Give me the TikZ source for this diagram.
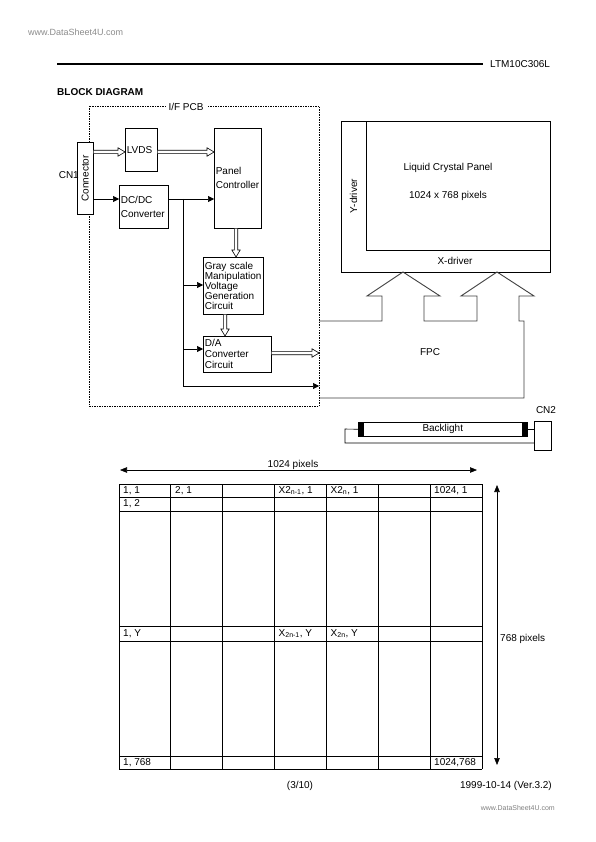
\documentclass[tikz,border=0pt]{standalone}
\usepackage{fontspec}
\setmainfont{Liberation Sans}
\usetikzlibrary{arrows.meta,calc}
% hollow arrow pointing right, from #1 to #2
\newcommand\fatarrowh[2]{%
  \draw[fatbody] ($(#1)+(0pt,1.7pt)$) -- ($(#2)+(-7pt,1.7pt)$) -- ($(#2)+(-7pt,4.2pt)$) -- (#2)
    -- ($(#2)+(-7pt,-4.2pt)$) -- ($(#2)+(-7pt,-1.7pt)$) -- ($(#1)+(0pt,-1.7pt)$);}
% hollow arrow pointing down, from #1 to #2
\newcommand\fatarrowv[2]{%
  \draw[fatbody] ($(#1)+(-1.7pt,0pt)$) -- ($(#2)+(-1.7pt,7pt)$) -- ($(#2)+(-4.2pt,7pt)$) -- (#2)
    -- ($(#2)+(4.2pt,7pt)$) -- ($(#2)+(1.7pt,7pt)$) -- ($(#1)+(1.7pt,0pt)$);}
\begin{document}
\begin{tikzpicture}[x=1pt,y=-1pt,
  every node/.style={font=\fontsize{10}{12}\selectfont, inner sep=0pt},
  blk/.style={draw, fill=white, line width=0.6pt, anchor=north west, align=left, inner sep=1.5pt},
  frame/.style={draw, fill=white, line width=0.6pt, anchor=north west},
  conn/.style={draw, line width=0.6pt},
  solidarrow/.style={conn, -{Triangle[length=6pt,width=6pt]}},
  fatbody/.style={draw, fill=white, line width=0.6pt, line join=miter},
  pcb/.style={draw, line width=0.6pt, dash pattern=on 1.5pt off 1pt},
  fpc/.style={draw, black!75, line width=0.9pt},
  gridline/.style={draw, line width=0.8pt},
  dimarrow/.style={conn, {Triangle[length=7pt,width=5.5pt]}-{Triangle[length=7pt,width=5.5pt]}},
  cell/.style={anchor=west},
]
\useasboundingbox (0,0) rectangle (595,842);
\fill[white] (0,0) rectangle (595,842);

% header
\node[anchor=west, text=black!45, font=\fontsize{9}{10}\selectfont] (wm1) at (28,32) {www.DataSheet4U.com};
\draw[line width=1.6pt] (57,64) -- (483,64);
\node[anchor=west] (model) at (490,64) {LTM10C306L};
\node[anchor=west, font=\fontsize{10}{12}\selectfont\bfseries] (title) at (57,92) {BLOCK DIAGRAM};

% I/F PCB
\draw[pcb] (89,106) rectangle (319,406);
\node[fill=white, inner xsep=3pt] (pcblabel) at (186,107) {I/F PCB};

% blocks
\node[frame, minimum width=16pt, minimum height=72pt] (conn) at (77,142) {};
\node[rotate=90] (connlabel) at (conn.center) {Connector};
\node[anchor=east] (cn1) at (79,175) {CN1};
\node[blk, minimum height=43pt, text width=29pt] (lvds) at (125,128) {LVDS};
\node[blk, minimum height=100pt, text width=44pt, font=\fontsize{10}{14}\selectfont] (pc) at (214,128) {Panel\\Controller};
\node[blk, minimum height=43pt, text width=46pt, font=\fontsize{10}{13.5}\selectfont] (dcdc) at (119,185) {DC/DC\\Converter};
\node[blk, minimum height=57pt, text width=57pt, font=\fontsize{10}{10}\selectfont] (gray) at (203,257) {Gray scale\\Manipulation\\Voltage\\Generation\\Circuit};
\node[blk, minimum height=36pt, text width=65pt, font=\fontsize{10}{11}\selectfont] (da) at (203,336) {D/A\\Converter\\Circuit};

% helper coordinates
\coordinate (ya) at (0,152);
\coordinate (yb) at (0,199);
\coordinate (a1) at (conn.east |- ya);
\coordinate (a2) at (lvds.west |- ya);
\coordinate (a3) at (lvds.east |- ya);
\coordinate (a4) at (pc.west |- ya);
\coordinate (a5) at (236,0 |- pc.south);
\coordinate (a6) at (236,0 |- gray.north);
\coordinate (a7) at (225,0 |- gray.south);
\coordinate (a8) at (225,0 |- da.north);
\coordinate (a9) at (da.east |- 0,353);
\coordinate (p3) at (319,353);
\coordinate (p1) at (319,321);
\coordinate (p2) at (319,398);
\coordinate (p4) at (319,386);
\coordinate (j1) at (183,199);
\coordinate (j2) at (183,285);
\coordinate (j3) at (183,349);
\coordinate (j4) at (183,386);

% hollow arrows
\fatarrowh{a1}{a2}
\fatarrowh{a3}{a4}
\fatarrowv{a5}{a6}
\fatarrowv{a7}{a8}
\fatarrowh{a9}{p3}

% solid arrows
\draw[solidarrow] (conn.east |- yb) -- (dcdc.west |- yb);
\draw[solidarrow] (dcdc.east |- yb) -- (pc.west |- yb);
\draw[conn] (j1) -- (j4);
\draw[solidarrow] (j4) -- (p4);
\draw[solidarrow] (j2) -- (gray.west |- j2);
\draw[solidarrow] (j3) -- (da.west |- j3);

% panel
\node[frame, minimum width=209pt, minimum height=151pt] (outer) at (341,121) {};
\node[frame, minimum width=184pt, minimum height=129pt] (lcd) at (366,121) {};
\node (lcp) at (448,168) {Liquid Crystal Panel};
\node (res) at (448,196) {1024 x 768 pixels};
\node[rotate=90] (ydrv) at (353.5,196) {Y-driver};
\node (xdrv) at (455,261) {X-driver};

% FPC
\draw[fpc, line join=miter] (p1) -- (382,321) -- (382,296) -- (367,296) -- (403,272) -- (440,296) -- (424,296) -- (424,321)
  -- (477,321) -- (477,296) -- (461,296) -- (497,272) -- (534,296) -- (519,296) -- (519,321) -- (524,321) -- (524,398) -- (p2);
\node (fpc) at (430,352) {FPC};

% backlight
\node[frame, anchor=north west, minimum width=169pt, minimum height=14pt] (bl) at (358,422) {Backlight};
\fill (bl.north west) rectangle ($(bl.south west)+(6,0)$);
\fill (bl.north east) rectangle ($(bl.south east)+(-6,0)$);
\node[frame, minimum width=17pt, minimum height=29pt] (cn2) at (534,421) {};
\node (cn2l) at (546,410) {CN2};
\draw[conn] (bl.west) -- (345,429) -- (345,443) -- (cn2.west |- 0,443);
\draw[conn] (bl.east) -- (bl.east -| cn2.west);

% pixel table
\coordinate (hl) at (120,470);
\coordinate (hr) at (477,470);
\draw[dimarrow] (hl) -- (hr);
\node (hlab) at (293,465) {1024 pixels};
\coordinate (vt) at (497,485);
\coordinate (vb) at (497,765);
\draw[dimarrow] (vt) -- (vb);
\node[anchor=west] (vlab) at (500,639) {768 pixels};

\foreach \i in {0,...,7} \draw[gridline] ({119+\i*51.857},484) -- ({119+\i*51.857},769);
\foreach \y in {484,497,511,626,641,756,769} \draw[gridline] (119,\y) -- (482,\y);

\node[cell] (c11) at (123,490.5) {1, 1};
\node[cell] (c21) at (175,490.5) {2, 1};
\node[cell] (c31) at (278.5,490.5) {X2\textsubscript{n-1}, 1};
\node[cell] (c41) at (330.5,490.5) {X2\textsubscript{n}, 1};
\node[cell] (c51) at (434,490.5) {1024, 1};
\node[cell] (c12) at (123,504) {1, 2};
\node[cell] (c1y) at (123,633.5) {1, Y};
\node[cell] (c3y) at (278.5,633.5) {X\textsubscript{2n-1}, Y};
\node[cell] (c4y) at (330.5,633.5) {X\textsubscript{2n}, Y};
\node[cell] (c1l) at (123,762.5) {1, 768};
\node[cell] (c5l) at (434,762.5) {1024,768};

% footer
\node (page) at (300,786) {(3/10)};
\node[anchor=east] (date) at (552,786) {1999-10-14 (Ver.3.2)};
\node[anchor=east, text=black!50, font=\fontsize{7}{8}\selectfont] (wm2) at (555,808) {www.DataSheet4U.com};
\end{tikzpicture}
\end{document}
